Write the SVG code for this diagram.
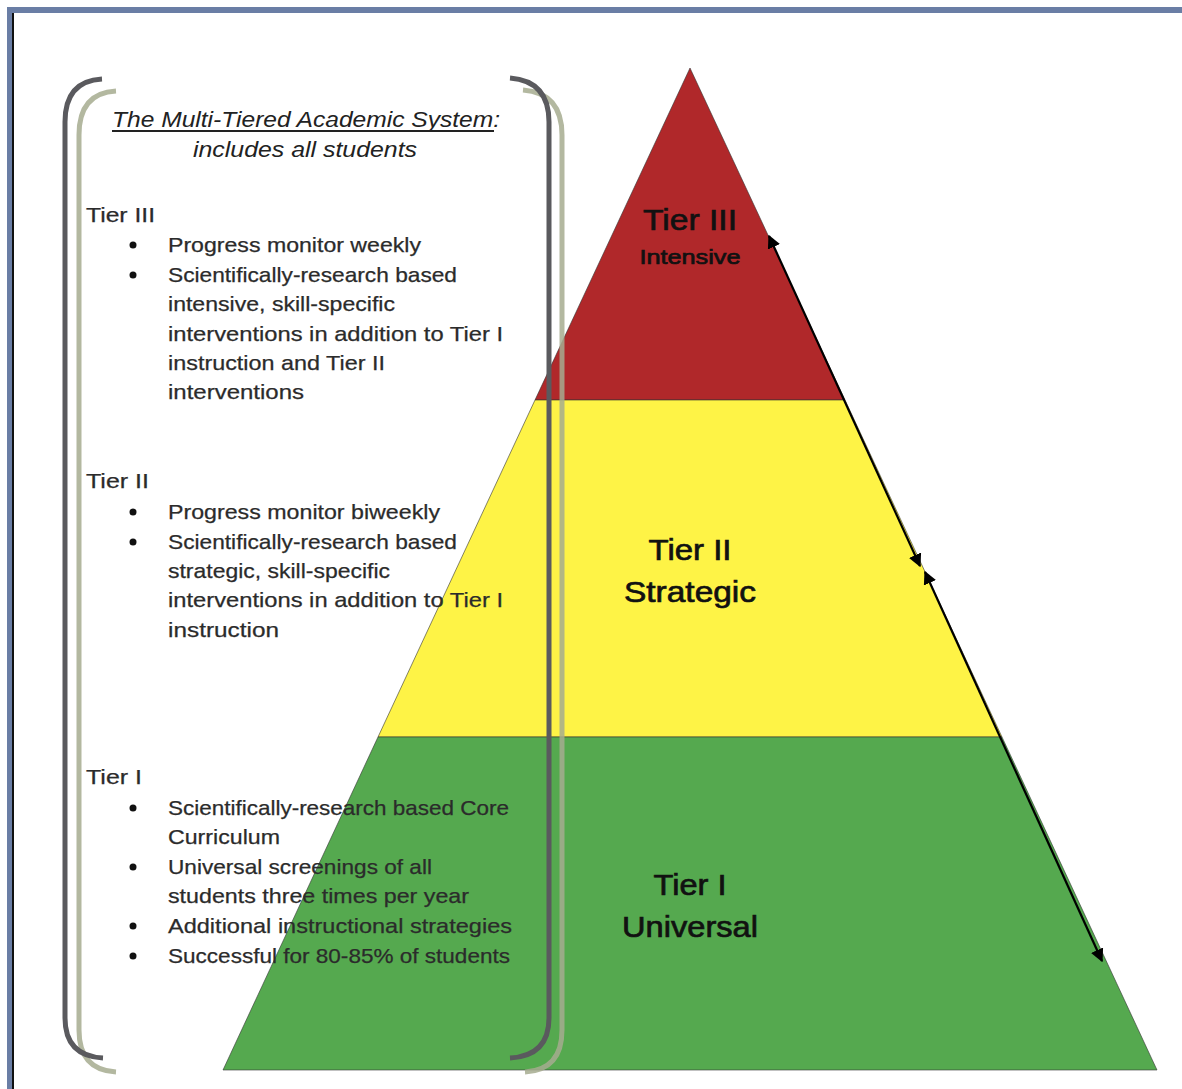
<svg xmlns="http://www.w3.org/2000/svg" width="1182" height="1089" viewBox="0 0 1182 1089">
<defs>
<style>
.t{font-family:"Liberation Sans",Arial,sans-serif;font-size:21px;fill:#2b2b2b;stroke:#2b2b2b;stroke-width:0.25}
.ti{font-family:"Liberation Sans",Arial,sans-serif;font-size:22px;font-style:italic;fill:#222}
.pl{font-family:"Liberation Sans",Arial,sans-serif;fill:#111;stroke:#111;stroke-width:0.7;text-anchor:middle}
.bul{fill:#111}
.brd{fill:none;stroke:#5a5a5e;stroke-width:5;stroke-linecap:butt}
.brl{fill:none;stroke:#a6ab8f;stroke-width:5;stroke-opacity:0.85}
.tier{stroke:#333;stroke-opacity:0.6;stroke-width:1}
.arr{stroke:#000;stroke-width:2.2;fill:none;marker-start:url(#ah);marker-end:url(#ah)}
</style>
<marker id="ah" viewBox="0 0 10 10" refX="9" refY="5" markerWidth="6" markerHeight="6" orient="auto-start-reverse" markerUnits="strokeWidth">
<path d="M0,0 L10,5 L0,10 Z" fill="#000"/>
</marker>
</defs>
<rect x="0" y="0" width="1182" height="1089" fill="#fff"/>
<g id="frame">
<rect x="7" y="7" width="1175" height="6" fill="#6a7ea5"/>
<rect x="7" y="7" width="5" height="1082" fill="#6a7ea5"/>
<rect x="12" y="13" width="2" height="1076" fill="#111"/>
</g>
<g id="pyramid">
<g id="tier3"><polygon class="tier" points="690,68 845,400 535,400" fill="#b0282a"/></g>
<g id="tier2"><polygon class="tier" points="535,400 845,400 1002,737 378,737" fill="#fef346"/></g>
<g id="tier1"><polygon class="tier" points="378,737 1002,737 1157,1070 223,1070" fill="#55a94f"/></g>
</g>
<g id="connectors">
<line class="arr" x1="769" y1="236" x2="920" y2="566"/>
<line class="arr" x1="925" y1="572" x2="1102" y2="961"/>
</g>
<g id="labels">
<text class="pl" x="690" y="230" font-size="30" textLength="94" lengthAdjust="spacingAndGlyphs">Tier III</text>
<text class="pl" x="690" y="264" font-size="21" textLength="101" lengthAdjust="spacingAndGlyphs">Intensive</text>
<text class="pl" x="690" y="560" font-size="30" textLength="83" lengthAdjust="spacingAndGlyphs">Tier II</text>
<text class="pl" x="690" y="602" font-size="30" textLength="132" lengthAdjust="spacingAndGlyphs">Strategic</text>
<text class="pl" x="690" y="895" font-size="30" textLength="73" lengthAdjust="spacingAndGlyphs">Tier I</text>
<text class="pl" x="690" y="937" font-size="30" textLength="136" lengthAdjust="spacingAndGlyphs">Universal</text>
</g>
<g id="brackets">
<path class="brl" d="M116,91 Q79,93 79,135 L79,1030 Q79,1070 116,1072"/>
<path class="brl" d="M523,90 Q562,93 562,135 L562,1030 Q562,1070 525,1072"/>
<path class="brd" d="M102,79 Q65,81 65,122 L65,1018 Q65,1056 103,1058"/>
<path class="brd" d="M510,78 Q549,81 549,122 L549,1018 Q549,1056 510,1058"/>
</g>
<g id="textbox">
<text class="ti" x="112" y="127" textLength="388" lengthAdjust="spacingAndGlyphs">The Multi-Tiered Academic System:</text>
<rect x="112" y="130" width="382" height="2" fill="#222"/>
<text class="ti" x="193" y="157" textLength="224" lengthAdjust="spacingAndGlyphs">includes all students</text>

<text class="t" x="86" y="222" textLength="69" lengthAdjust="spacingAndGlyphs">Tier III</text>
<circle class="bul" cx="133" cy="245" r="3.5"/>
<text class="t" x="168" y="252" textLength="253" lengthAdjust="spacingAndGlyphs">Progress monitor weekly</text>
<circle class="bul" cx="133" cy="275" r="3.5"/>
<text class="t" x="168" y="282" textLength="289" lengthAdjust="spacingAndGlyphs">Scientifically-research based</text>
<text class="t" x="168" y="311" textLength="227" lengthAdjust="spacingAndGlyphs">intensive, skill-specific</text>
<text class="t" x="168" y="341" textLength="335" lengthAdjust="spacingAndGlyphs">interventions in addition to Tier I</text>
<text class="t" x="168" y="370" textLength="217" lengthAdjust="spacingAndGlyphs">instruction and Tier II</text>
<text class="t" x="168" y="399" textLength="136" lengthAdjust="spacingAndGlyphs">interventions</text>

<text class="t" x="86" y="488" textLength="63" lengthAdjust="spacingAndGlyphs">Tier II</text>
<circle class="bul" cx="133" cy="512" r="3.5"/>
<text class="t" x="168" y="519" textLength="272" lengthAdjust="spacingAndGlyphs">Progress monitor biweekly</text>
<circle class="bul" cx="133" cy="542" r="3.5"/>
<text class="t" x="168" y="549" textLength="289" lengthAdjust="spacingAndGlyphs">Scientifically-research based</text>
<text class="t" x="168" y="578" textLength="222" lengthAdjust="spacingAndGlyphs">strategic, skill-specific</text>
<text class="t" x="168" y="607" textLength="335" lengthAdjust="spacingAndGlyphs">interventions in addition to Tier I</text>
<text class="t" x="168" y="637" textLength="111" lengthAdjust="spacingAndGlyphs">instruction</text>

<text class="t" x="86" y="784" textLength="56" lengthAdjust="spacingAndGlyphs">Tier I</text>
<circle class="bul" cx="133" cy="808" r="3.5"/>
<text class="t" x="168" y="815" textLength="341" lengthAdjust="spacingAndGlyphs">Scientifically-research based Core</text>
<text class="t" x="168" y="844" textLength="112" lengthAdjust="spacingAndGlyphs">Curriculum</text>
<circle class="bul" cx="133" cy="867" r="3.5"/>
<text class="t" x="168" y="874" textLength="264" lengthAdjust="spacingAndGlyphs">Universal screenings of all</text>
<text class="t" x="168" y="903" textLength="301" lengthAdjust="spacingAndGlyphs">students three times per year</text>
<circle class="bul" cx="133" cy="926" r="3.5"/>
<text class="t" x="168" y="933" textLength="344" lengthAdjust="spacingAndGlyphs">Additional instructional strategies</text>
<circle class="bul" cx="133" cy="956" r="3.5"/>
<text class="t" x="168" y="963" textLength="342" lengthAdjust="spacingAndGlyphs">Successful for 80-85% of students</text>
</g>
</svg>
